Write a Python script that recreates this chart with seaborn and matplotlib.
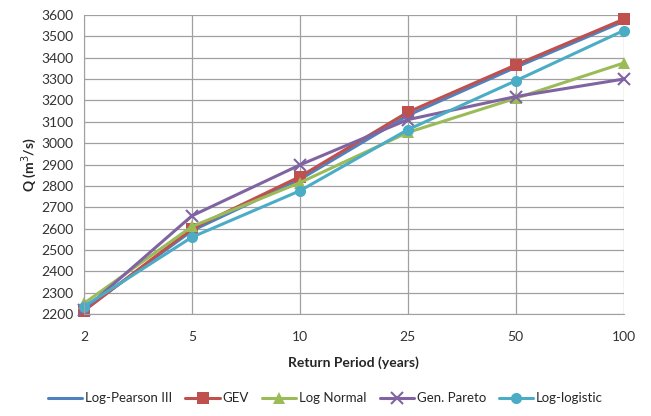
import matplotlib
matplotlib.use('Agg')
import pandas as pd
import numpy as np
import matplotlib.pyplot as plt
import seaborn as sns

periods = ['2', '5', '10', '25', '50', '100']
log_pearson = [2220, 2590, 2830, 3130, 3355, 3570]
gev = [2215, 2600, 2843, 3145, 3366, 3580]
log_normal = [2250, 2610, 2815, 3050, 3210, 3375]
gen_pareto = [2220, 2660, 2898, 3110, 3218, 3300]
log_logistic = [2235, 2560, 2777, 3063, 3292, 3527]

series_names = ['Log-Pearson III', 'GEV', 'Log Normal', 'Gen. Pareto', 'Log-logistic']
series_vals = [log_pearson, gev, log_normal, gen_pareto, log_logistic]
colors = ['#4F81BD', '#C0504D', '#9BBB59', '#8064A2', '#4BACC6']
markers = [None, 's', '^', 'x', 'o']

rows = []
for name, vals in zip(series_names, series_vals):
    for p, v in zip(periods, vals):
        rows.append({'period': p, 'Q': v, 'series': name})
df = pd.DataFrame(rows)

sns.set_style('white')
plt.rcParams['font.family'] = ['Lato', 'DejaVu Sans']

fig = plt.figure(figsize=(6.51, 4.16), dpi=100)
ax = fig.add_axes([0.129, 0.245, 0.829, 0.719])

for name, c, m in zip(series_names, colors, markers):
    sub = df[df.series == name]
    sns.lineplot(data=sub, x='period', y='Q', ax=ax, color=c, linewidth=2.2,
                 marker=m, markersize=8 if m != 'x' else 9,
                 markeredgewidth=1.5 if m == 'x' else 0,
                 markeredgecolor=c, markerfacecolor=c,
                 label=name, sort=False, clip_on=False)

ax.set_xlim(0, 5)
ax.set_ylim(2200, 3600)
ax.set_yticks(np.arange(2200, 3601, 100))
ax.grid(True, color='#A0A0A0', linewidth=0.9)
ax.set_axisbelow(True)
for s in ['top', 'right']:
    ax.spines[s].set_visible(False)
for s in ['left', 'bottom']:
    ax.spines[s].set_color('#A0A0A0')
ax.tick_params(axis='both', labelsize=10, colors='#333333', length=4, color='#A0A0A0', direction='out')
ax.tick_params(axis='x', pad=8)
ax.set_xlabel('Return Period (years)', fontsize=10, fontweight='bold', labelpad=10)
ax.set_ylabel('Q (m$^3$/s)', fontsize=10, fontweight='bold', labelpad=2)

ax.legend(loc='lower center', bbox_to_anchor=(0.5, 0.0), bbox_transform=fig.transFigure,
          ncol=5, frameon=False, fontsize=9.5, handlelength=2.6, columnspacing=1.0,
          handletextpad=0.2)

fig.savefig('out.png', dpi=100)
